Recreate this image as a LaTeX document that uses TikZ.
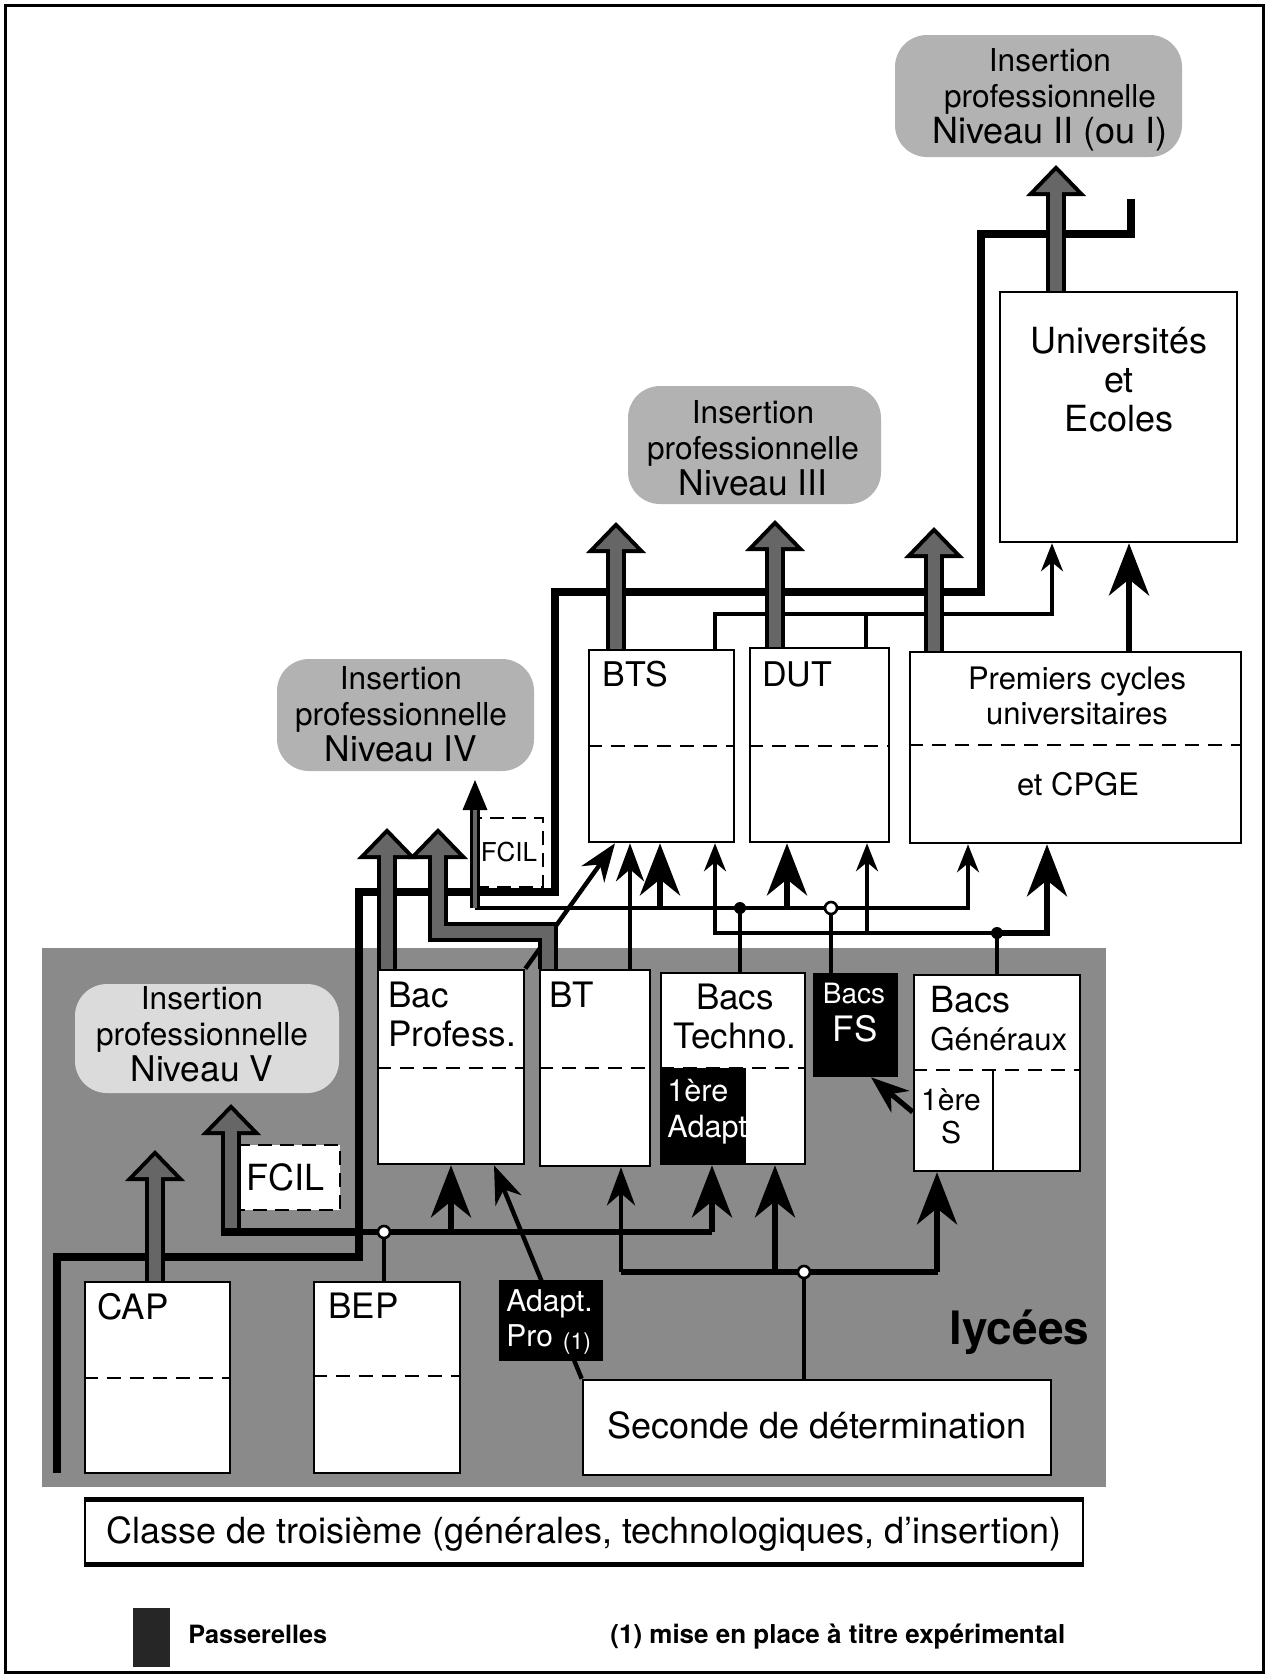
\documentclass[tikz,border=0pt]{standalone}
\usepackage{fontspec}
\setmainfont{TeX Gyre Heros}
\usetikzlibrary{arrows.meta,calc}
\newcommand{\fsz}[2]{\fontsize{#1}{#2}\selectfont}
\definecolor{lyceegray}{gray}{0.54}
\definecolor{insgray}{gray}{0.70}
\definecolor{inslight}{gray}{0.86}
\definecolor{hatchgray}{gray}{0.40}
\tikzset{
  cbox/.style={rectangle, draw=black, fill=white, line width=1.3pt, inner sep=0pt},
  blkbox/.style={rectangle, draw=black, fill=black, line width=1.3pt, inner sep=0pt},
  insbox/.style={rectangle, rounded corners=16pt, fill=insgray, inner sep=0pt},
  instxt/.style={inner sep=0pt, align=center, font=\fsz{15.8}{18}},
  fcil/.style={rectangle, draw=black, fill=white, line width=1.3pt, dash pattern=on 7pt off 4pt, inner sep=0pt},
  sepline/.style={line width=1.3pt, dash pattern=on 7pt off 4.5pt},
  lbl/.style={inner sep=0pt, font=\fsz{17.5}{19.5}},
  wlbl/.style={inner sep=0pt, text=white, font=\fsz{15}{17.5}},
  pass/.style={line width=3.8pt},
  wire/.style={line width=1.6pt},
  wiremed/.style={line width=2.8pt},
  arrbig/.style={line width=3pt, -{Stealth[length=26pt, width=20pt, inset=8pt]}},
  arrmed/.style={line width=2.2pt, -{Stealth[length=19pt, width=14pt, inset=6pt]}},
  arrthin/.style={line width=1.6pt, -{Stealth[length=14pt, width=11pt, inset=4.5pt]}},
  hatchout/.style={line width=10pt, draw=black, -{Triangle[length=15.5pt, width=30pt, line width=0pt]}},
  hatchin/.style={line width=6pt, draw=hatchgray, shorten >=2.9pt, -{Triangle[length=10.6pt, width=20.5pt, line width=0pt]}},
  hatchnout/.style={line width=5pt, draw=black, -{Triangle[length=15pt, width=12.5pt, line width=0pt]}},
  hatchnin/.style={line width=2pt, draw=hatchgray, shorten >=15pt},
  jdot/.style={circle, fill=black, minimum size=6pt, inner sep=0pt},
  jring/.style={circle, draw=black, fill=white, line width=1.3pt, minimum size=6pt, inner sep=0pt}
}
\newcommand{\hatch}[1]{\draw[hatchout] #1; \draw[hatchin] #1;}

\begin{document}
\begin{tikzpicture}[x=0.5pt, y=-0.5pt]
  \useasboundingbox (0,0) rectangle (1268,1677);
  \draw[line width=1.5pt] (5,5) rectangle (1263,1672);
  % zone des lycees
  \fill[lyceegray] (42,948) rectangle (1106,1487);

  % insertion professionnelle
  \node[insbox, minimum width=143.5pt, minimum height=61pt] (ins2) at (1038.5,96) {};
  \node[insbox, minimum width=126.5pt, minimum height=59pt] (ins3) at (754.5,445) {};
  \node[insbox, minimum width=128.5pt, minimum height=56pt] (ins4) at (405.5,715) {};
  \node[insbox, fill=inslight, minimum width=132pt, minimum height=54.5pt] (ins5) at (207,1038.5) {};
  \node[instxt] (ins2t) at (1050,99.5) {Insertion\\professionnelle\\{\fsz{18}{18}Niveau II (ou I)}};
  \node[instxt] (ins3t) at (753,448) {Insertion\\professionnelle\\{\fsz{17.7}{18}Niveau III}};
  \node[instxt] (ins4t) at (401,714) {Insertion\\professionnelle\\{\fsz{17.7}{18}Niveau IV}};
  \node[instxt] (ins5t) at (202,1034) {Insertion\\professionnelle\\{\fsz{17.7}{18}Niveau V}};

  % formations
  \node[cbox, minimum width=72.5pt, minimum height=95.5pt] (cap) at (157.5,1377.5) {};
  \node[cbox, minimum width=73pt, minimum height=95.5pt] (bep) at (387,1377.5) {};
  \node[cbox, minimum width=234pt, minimum height=47.5pt] (sec) at (817,1427.5) {};
  \node[cbox, line width=1pt, minimum width=499pt, minimum height=31.5pt] (trois) at (584,1531.5) {};
  \draw[line width=2.5pt] (trois.north west) -- (trois.north east);
  \draw[line width=2.5pt] (trois.south west) -- (trois.south east);
  \node[cbox, minimum width=73pt, minimum height=97pt] (bacpro) at (451,1067) {};
  \node[cbox, minimum width=55pt, minimum height=98pt] (bt) at (595,1068) {};
  \node[cbox, minimum width=72pt, minimum height=95.5pt] (bactech) at (733,1068.5) {};
  \node[blkbox, minimum width=41.5pt, minimum height=51pt] (bacfs) at (855.5,1025) {};
  \node[cbox, minimum width=83pt, minimum height=98pt] (bacgen) at (997,1073) {};
  \node[cbox, minimum width=72.5pt, minimum height=96pt] (bts) at (661.5,746) {};
  \node[cbox, minimum width=69.5pt, minimum height=97pt] (dut) at (819.5,745) {};
  \node[cbox, minimum width=165.5pt, minimum height=95.5pt] (prem) at (1075.5,747.5) {};
  \node[cbox, minimum width=118.5pt, minimum height=125pt] (univ) at (1118.5,417) {};
  \node[fcil, font=\fsz{18}{18}, minimum width=54.5pt, minimum height=32.5pt] (fcilv) at (285.5,1177.5) {FCIL};
  \node[fcil, font=\fsz{13}{13}, minimum width=34pt, minimum height=34.5pt] (fciliv) at (509,852.5) {FCIL};

  % separations
  \draw[sepline] (cap.west |- 0,1378) -- (cap.east |- 0,1378);
  \draw[sepline] (bep.west |- 0,1376) -- (bep.east |- 0,1376);
  \draw[sepline] (bacpro.west |- 0,1068) -- (bacpro.east |- 0,1068);
  \draw[sepline] (bt.west |- 0,1068) -- (bt.east |- 0,1068);
  \draw[sepline] (bactech.west |- 0,1068) -- (bactech.east |- 0,1068);
  \fill (bactech.west |- 0,1068) rectangle (746,0 |- bactech.south);
  \draw[sepline] (bacgen.west |- 0,1070) -- (bacgen.east |- 0,1070);
  \draw[line width=1.2pt] (993,1070) -- (993,0 |- bacgen.south);
  \draw[sepline] (bts.west |- 0,746) -- (bts.east |- 0,746);
  \draw[sepline] (dut.west |- 0,746) -- (dut.east |- 0,746);
  \draw[sepline] (prem.west |- 0,745) -- (prem.east |- 0,745);

  % textes
  \node[lbl, anchor=north west] (capl) at (97,1293) {CAP};
  \node[lbl, anchor=north west] (bepl) at (328,1293) {BEP};
  \node[lbl, anchor=north west, align=left] (bacprol) at (388,982) {Bac\\Profess.};
  \node[lbl, anchor=north west] (btl) at (549,982) {BT};
  \node[lbl, anchor=north, align=center] (bactechl) at (735,984) {Bacs\\Techno.};
  \node[wlbl, anchor=base, font=\fsz{14}{14}] (bacfsa) at (854,1003) {Bacs};
  \node[wlbl, anchor=base, font=\fsz{17.5}{17.5}] (bacfsb) at (855,1041) {FS};
  \node[lbl, anchor=base west, font=\fsz{18}{18}] (bacgena) at (930,1012) {Bacs};
  \node[lbl, anchor=base west, font=\fsz{15.6}{15.6}] (bacgenb) at (930,1050) {Généraux};
  \node[lbl, anchor=north, align=center, font=\fsz{15}{16.5}] (premsl) at (951,1088) {1ère\\S};
  \node[wlbl, anchor=north west, align=left, font=\fsz{15.3}{18}] (adaptl) at (667,1079) {1ère\\Adapt};
  \node[lbl, anchor=north west, font=\fsz{17}{17}] (btsl) at (602,661) {BTS};
  \node[lbl, anchor=north west, font=\fsz{17}{17}] (dutl) at (762,661) {DUT};
  \node[lbl, anchor=north, align=center, font=\fsz{15.5}{17.5}] (preml) at (1077,666) {Premiers cycles\\universitaires};
  \node[lbl, anchor=base, font=\fsz{15.5}{15.5}] (cpgel) at (1078,795) {et CPGE};
  \node[lbl, anchor=north, align=center, font=\fsz{18}{19.5}] (univl) at (1119,327) {Universités\\et\\Ecoles};
  \node[lbl, anchor=base, font=\fsz{18}{18}] (secl) at (817,1438) {Seconde de détermination};
  \node[lbl, anchor=base, font=\fsz{18}{18}] (troisl) at (584,1543) {Classe de troisième (générales, technologiques, d'insertion)};
  \node[lbl, anchor=base west, font=\fsz{23}{23}\bfseries] (lyceel) at (949,1344) {lycées};

  % passerelle
  \coordinate (pstart) at (57,1473);
  \coordinate (pend) at (1131,199);
  \draw[pass] (pstart) |- (359,1257) |- (555,892) |- (981,592) |- (1131,234) -- (pend);

  % depuis BEP et seconde
  \coordinate (jbep) at (384,1232);
  \coordinate (jsec) at (804,1272);
  \draw[wire] (bep.north -| jbep) -- (jbep);
  \draw[wiremed] (359,1232) -- (712,1232);
  \draw[arrbig] (451,1232) -- (451,0 |- bacpro.south);
  \draw[arrbig] (712,1232) -- (712,0 |- bactech.south);
  \draw[wire] (sec.north -| jsec) -- (jsec);
  \draw[wiremed] (621,1272) -- (938,1272);
  \draw[arrmed] (621,1272) -- (621,0 |- bt.south);
  \draw[arrbig] (775,1272) -- (775,0 |- bactech.south);
  \draw[arrbig] (937,1272) -- (937,0 |- bacgen.south);
  \draw[arrmed] (sec.north west) -- (494,0 |- bacpro.south);
  \draw[arrmed, line width=2.6pt] (bacgen.west |- 0,1112) -- (871,0 |- bacfs.south);

  % adaptation pro
  \node[blkbox, minimum width=51pt, minimum height=39.5pt] (adpro) at (551,1320.5) {};
  \node[wlbl, anchor=north west, align=left] (adprol) at (506,1289) {Adapt.\\Pro\hspace{5pt}\raisebox{-1.5pt}{\fsz{11.5}{11.5}(1)}};

  % vers BTS, DUT, premiers cycles
  \coordinate (f4) at (475,908);
  \coordinate (jtech) at (740,908);
  \coordinate (jfs) at (831,908);
  \coordinate (jgen) at (997,933);
  \draw[arrmed] (bacpro.north east) -- (615,0 |- bts.south);
  \draw[arrmed, line width=1.8pt] (bt.north -| 630,0) -- (630,0 |- bts.south);
  \draw[arrthin] (f4) -- (968,908) -- (968,0 |- prem.south);
  \draw[wire] (bactech.north -| jtech) -- (jtech);
  \draw[wire] (bacfs.north -| jfs) -- (jfs);
  \draw[arrbig] (660,908) -- (660,0 |- bts.south);
  \draw[arrbig] (787,908) -- (787,0 |- dut.south);
  \draw[wire] (bacgen.north -| jgen) -- (jgen);
  \draw[arrthin] (jgen) -- (715,933) -- (715,0 |- bts.south);
  \draw[arrthin] (867,933) -- (867,0 |- dut.south);
  \draw[arrbig] (jgen) -- (1047,933) -- (1047,0 |- prem.south);

  % vers universites
  \draw[arrthin] (bts.north -| 715,0) -- (715,614) -- (1052,614) -- (1052,0 |- univ.south);
  \draw[wire] (dut.north -| 866,0) -- (866,614);
  \draw[arrbig, line width=3.4pt] (prem.north -| 1129,0) -- (1129,0 |- univ.south);

  % fleches d'insertion
  \coordinate (t1) at (155,1150);
  \coordinate (t2) at (231,1104);
  \coordinate (t3) at (387,828);
  \coordinate (t4) at (438,828);
  \coordinate (t5) at (616,522);
  \coordinate (t6) at (775,520);
  \coordinate (t7) at (934,527);
  \coordinate (t8) at (1056,165);
  \coordinate (t9) at (475,780);
  \hatch{(cap.north -| t1) -- (t1)}
  \hatch{(231,1232) -- (t2)}
  \hatch{(bacpro.north -| t3) -- (t3)}
  \hatch{(bt.north -| 548,0) -- (548,932) -- (438,932) -- (t4)}
  \hatch{(bts.north -| t5) -- (t5)}
  \hatch{(dut.north -| t6) -- (t6)}
  \hatch{(prem.north -| t7) -- (t7)}
  \hatch{(univ.north -| t8) -- (t8)}
  \draw[hatchnout] (f4) -- (t9);
  \draw[hatchnin] (f4) -- (t9);
  \draw[pass] (221,1232) -- (359,1232);

  % jonctions
  \node[jring] (jbepn) at (jbep) {};
  \node[jring] (jsecn) at (jsec) {};
  \node[jdot] (jtechn) at (jtech) {};
  \node[jring] (jfsn) at (jfs) {};
  \node[jdot] (jgenn) at (jgen) {};

  % legende
  \node[rectangle, fill=black!85, inner sep=0pt, minimum width=18.5pt, minimum height=29.5pt] (legbar) at (151.5,1637.5) {};
  \node[inner sep=0pt, anchor=base west, font=\fsz{12.6}{12.6}\bfseries] (legpass) at (188,1643) {Passerelles};
  \node[inner sep=0pt, anchor=base west, font=\fsz{13}{13}\bfseries] (legnote) at (610,1643) {(1) mise en place à titre expérimental};
\end{tikzpicture}
\end{document}
